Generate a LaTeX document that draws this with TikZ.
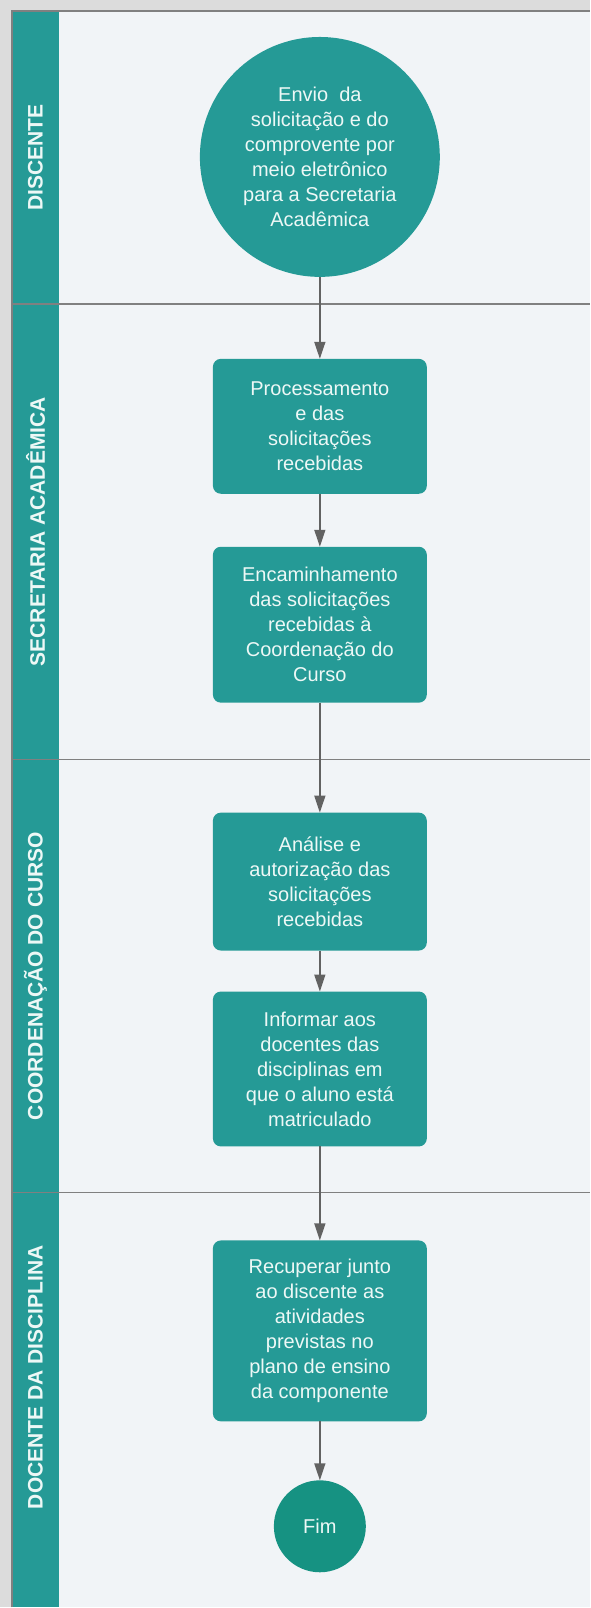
\documentclass[tikz,border=0pt]{standalone}
\usepackage{fontspec}
\setmainfont{Liberation Sans}
\usepackage{xcolor}
\usepackage{tikz}
\usetikzlibrary{arrows.meta, positioning, shapes, calc}
\definecolor{poolteal}{HTML}{259A96}
\definecolor{fimgreen}{HTML}{169282}
\definecolor{lanebg}{HTML}{F1F4F7}
\definecolor{outerbg}{HTML}{DCDCDC}
\definecolor{divgray}{HTML}{808080}
\definecolor{arrowgray}{HTML}{626262}
\definecolor{labeltext}{HTML}{EDF8F6}

\begin{document}
\begin{tikzpicture}[
    x=1pt, y=1pt,
    every node/.style={align=center, text=labeltext, inner sep=0pt, outer sep=0pt},
    lanelabel/.style={rotate=90, font=\fontsize{21}{25}\selectfont\bfseries},
    process/.style={rectangle, rounded corners=8pt, fill=poolteal,
                    minimum width=214pt, font=\fontsize{20}{25}\selectfont},
    event/.style={circle, fill=poolteal, font=\fontsize{20}{25}\selectfont},
    divider/.style={divgray, line width=1.5pt},
    arrow/.style={-{Triangle[length=17pt, width=11pt]}, line width=1.5pt, arrowgray}
]

% --- Pool and lanes ---
\fill[outerbg] (0,0) rectangle (590,-1608);
\fill[lanebg] (12,-11) rectangle (590,-1608);
\fill[poolteal] (12,-11) rectangle (59,-1608);
\draw[divider] (12,-1608) -- (12,-11) -- (590,-11);
\draw[divider] (12,-304) -- (590,-304);
\draw[divider] (12,-760) -- (590,-760);
\draw[divider] (12,-1193) -- (590,-1193);

% --- Lane labels ---
\node[lanelabel] (lDiscente) at (35.5,-157.5) {DISCENTE};
\node[lanelabel] (lSecretaria) at (35.5,-532) {SECRETARIA ACADÊMICA};
\node[lanelabel] (lCoordenacao) at (35.5,-976.5) {COORDENAÇÃO DO CURSO};
\node[lanelabel] (lDocente) at (35.5,-1378) {DOCENTE DA DISCIPLINA};

% --- Nodes ---
\node[event, minimum size=240pt] (envio) at (320,-157)
  {Envio\ \ da\\solicitação e do\\comprovente por\\meio eletrônico\\para a Secretaria\\Acadêmica};
\node[process, minimum height=135pt, below=82pt of envio] (processa)
  {Processamento\\e das\\solicitações\\recebidas};
\node[process, minimum height=156pt, below=53pt of processa] (encaminha)
  {Encaminhamento\\das solicitações\\recebidas à\\Coordenação do\\Curso};
\node[process, minimum height=138pt, below=110pt of encaminha] (analise)
  {Análise e\\autorização das\\solicitações\\recebidas};
\node[process, minimum height=155pt, below=41pt of analise] (informa)
  {Informar aos\\docentes das\\disciplinas em\\que o aluno está\\matriculado};
\node[process, minimum height=181pt, below=94pt of informa] (recupera)
  {Recuperar junto\\ao discente as\\atividades\\previstas no\\plano de ensino\\da componente};
\node[event, fill=fimgreen, minimum size=92pt, below=59pt of recupera] (fim) {Fim};

% --- Arrows ---
\draw[arrow] (envio) -- (processa);
\draw[arrow] (processa) -- (encaminha);
\draw[arrow] (encaminha) -- (analise);
\draw[arrow] (analise) -- (informa);
\draw[arrow] (informa) -- (recupera);
\draw[arrow] (recupera) -- (fim);

\end{tikzpicture}
\end{document}
